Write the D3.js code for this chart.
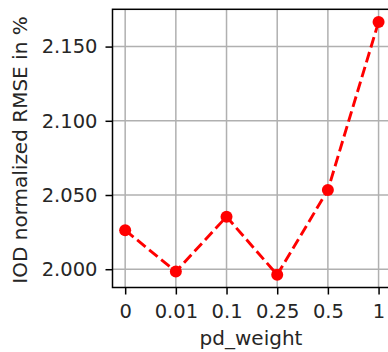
<!DOCTYPE html>
<html>
<head>
<meta charset="utf-8">
<script src="https://cdn.jsdelivr.net/npm/d3@7"></script>
<style>
  html, body { margin: 0; padding: 0; background: #fff; }
  svg { display: block; }
  text { font-family: "DejaVu Sans", sans-serif; fill: #262626; }
</style>
</head>
<body>
<div id="chart"></div>
<script>
// pd_weight settings and resulting IOD normalized RMSE (%)
const weights = ["0", "0.01", "0.1", "0.25", "0.5", "1"];
const rmse = [2.0263, 1.9984, 2.0354, 1.9962, 2.0534, 2.1666];
const yTicks = [2.000, 2.050, 2.100, 2.150];

const W = 388, H = 352;
const plotLeft = 112.5, plotTop = 9.3, plotBottom = 287.5;
const tickFont = 19.5, titleFont = 20;

const svg = d3.select("#chart").append("svg")
  .attr("width", W).attr("height", H);

// categorical x axis with a quarter-step pad on each side
const step = 50.68;
const plotRight = plotLeft + step * 5.5;
const x = d3.scalePoint()
  .domain(weights)
  .range([plotLeft, plotRight])
  .padding(0.25);

// y domain: data extent plus 5% margin
const lo = d3.min(rmse), hi = d3.max(rmse), pad = (hi - lo) * 0.05;
const y = d3.scaleLinear()
  .domain([lo - pad, hi + pad])
  .range([plotBottom, plotTop]);

// grid
const grid = svg.append("g");
grid.selectAll("line.v").data(weights).join("line").attr("class", "v")
  .attr("x1", d => x(d)).attr("x2", d => x(d))
  .attr("y1", plotTop).attr("y2", plotBottom)
  .attr("stroke", "#b0b0b0").attr("stroke-width", 1.5);
grid.selectAll("line.h").data(yTicks).join("line").attr("class", "h")
  .attr("x1", plotLeft).attr("x2", plotRight)
  .attr("y1", d => y(d)).attr("y2", d => y(d))
  .attr("stroke", "#b0b0b0").attr("stroke-width", 1.5);

// axes
const xAxis = d3.axisBottom(x).tickSize(7).tickPadding(10);
const yAxis = d3.axisLeft(y).tickValues(yTicks).tickFormat(d3.format(".3f")).tickSize(7).tickPadding(8);

const gx = svg.append("g").attr("transform", `translate(0,${plotBottom})`).call(xAxis);
const gy = svg.append("g").attr("transform", `translate(${plotLeft},0)`).call(yAxis);
[gx, gy].forEach(g => {
  g.select(".domain").remove();
  g.selectAll(".tick line").attr("stroke", "#000").attr("stroke-width", 1.5);
  g.selectAll(".tick text").attr("font-size", tickFont).attr("fill", "#262626")
    .attr("font-family", "DejaVu Sans, sans-serif");
});

// series: dashed red line with circle markers
const line = d3.line().x((d, i) => x(weights[i])).y(d => y(d));
svg.append("path").datum(rmse)
  .attr("d", line)
  .attr("fill", "none")
  .attr("stroke", "#ff0000")
  .attr("stroke-width", 2.9)
  .attr("stroke-dasharray", "10.8,4.7");
svg.selectAll("circle").data(rmse).join("circle")
  .attr("cx", (d, i) => x(weights[i])).attr("cy", d => y(d))
  .attr("r", 6).attr("fill", "#ff0000");

// spines
svg.append("rect")
  .attr("x", plotLeft).attr("y", plotTop)
  .attr("width", plotRight - plotLeft).attr("height", plotBottom - plotTop)
  .attr("fill", "none").attr("stroke", "#000").attr("stroke-width", 1.5);

// axis titles
svg.append("text")
  .attr("x", 251).attr("y", 345)
  .attr("text-anchor", "middle").attr("font-size", titleFont)
  .text("pd_weight");
svg.append("text")
  .attr("transform", `translate(27,150) rotate(-90)`)
  .attr("text-anchor", "middle").attr("font-size", titleFont)
  .text("IOD normalized RMSE in %");
</script>
</body>
</html>
